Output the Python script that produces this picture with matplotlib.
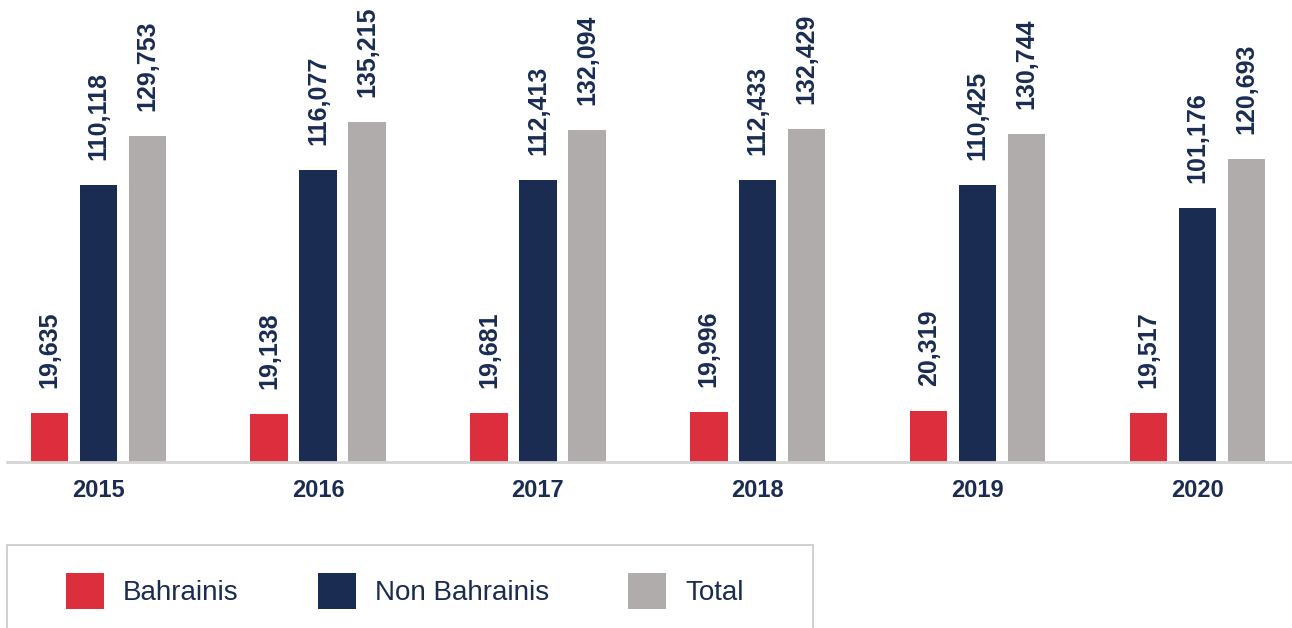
import matplotlib
matplotlib.use("Agg")
import matplotlib.pyplot as plt
from matplotlib.patches import Patch, Rectangle
import numpy as np

years = ["2015", "2016", "2017", "2018", "2019", "2020"]
bahrainis = [19635, 19138, 19681, 19996, 20319, 19517]
non_bahrainis = [110118, 116077, 112413, 112433, 110425, 101176]
total = [129753, 135215, 132094, 132429, 130744, 120693]

series_names = ["Bahrainis", "Non Bahrainis", "Total"]
colors = ["#dc2e3d", "#1a2c52", "#b0acab"]
navy = "#1a2c52"

plt.rcParams['font.family'] = ['Liberation Sans', 'DejaVu Sans']

W, H = 1292, 628
fig = plt.figure(figsize=(W / 100, H / 100), dpi=100)
ax = fig.add_axes([7 / W, 1 - 462 / H, 1 - 7 / W, 462 / H])

x = np.arange(len(years))
width = 0.17
offset = 0.2227
for i, (vals, c) in enumerate(zip([bahrainis, non_bahrainis, total], colors)):
    pos = x + (i - 1) * offset
    ax.bar(pos, vals, width=width, color=c, zorder=2)
    for px, v in zip(pos, vals):
        ax.annotate(f"{v:,}", (px, v), xytext=(0, 18), textcoords="offset points",
                    rotation=90, ha="center", va="bottom", fontsize=18,
                    fontweight="bold", color=navy, annotation_clip=False)

ax.set_xlim(-0.415, 5.43)
ax.set_ylim(0, 462 / 0.002512)
for s in ["top", "left", "right"]:
    ax.spines[s].set_visible(False)
ax.spines["bottom"].set_color("#d4d4d4")
ax.spines["bottom"].set_linewidth(2)
ax.set_yticks([])
ax.set_xticks(x)
ax.set_xticklabels(years, fontsize=17, fontweight="bold", color=navy)
ax.tick_params(axis="x", length=0, pad=12)

# legend box
fig.add_artist(Rectangle((7 / W, -0.1), (813 - 7) / W, 0.1 + 1 - 545 / H,
                         transform=fig.transFigure, fill=False,
                         edgecolor="#c8c8c8", linewidth=1.2))
handles = [Patch(facecolor=c, edgecolor="none", label=n) for c, n in zip(colors, series_names)]
leg = fig.legend(handles=handles, loc="center left", bbox_to_anchor=(66 / W, 1 - 591 / H),
                 ncol=3, frameon=False, fontsize=20, handlelength=1.37, handleheight=1.63,
                 handletextpad=0.68, columnspacing=2.85, borderaxespad=0, borderpad=0)
for t in leg.get_texts():
    t.set_color(navy)

fig.savefig("out.png", dpi=100)
